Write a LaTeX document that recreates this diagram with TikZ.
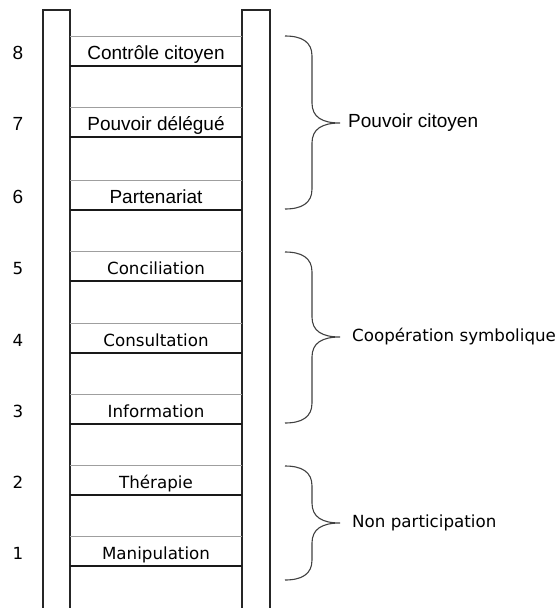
\documentclass[tikz,border=0pt]{standalone}
\usepackage{fontspec}
\setmainfont{Liberation Sans}
\newfontfamily\dejavu{DejaVu Sans}
\usetikzlibrary{positioning}

\newcommand\upfont{\fontsize{19}{22}\selectfont}
\newcommand\lowfont{\dejavu\fontsize{16.7}{20}\selectfont}

\begin{document}
\begin{tikzpicture}[x=1pt,y=-1pt,
    rail/.style={draw=black!85,line width=1.4pt,fill=white},
    rung/.style={rectangle,minimum width=172pt,minimum height=29pt,inner sep=0pt,text height=16pt,text depth=0pt},
    rungtop/.style={gray!75,line width=1.3pt},
    rungbot/.style={black!90,line width=2pt},
    level/.style={inner sep=0pt,text height=16pt,text depth=0pt},
    grpbrace/.style={black!75,line width=1.1pt},
    group/.style={inner sep=0pt,anchor=west}
]
\useasboundingbox (0,0) rectangle (558,608);

% Rails
\draw[rail] (43,10) rectangle (70,620);
\draw[rail] (242,10) rectangle (270,620);

% Rungs and levels
\foreach \n/\y/\lab/\f in {8/51.5/Contrôle citoyen/\upfont,
                           7/122.5/Pouvoir délégué/\upfont,
                           6/195.5/Partenariat/\upfont,
                           5/266.5/Conciliation/\lowfont,
                           4/338.5/Consultation/\lowfont,
                           3/409.5/Information/\lowfont,
                           2/480.5/Thérapie/\lowfont,
                           1/551.5/Manipulation/\lowfont} {
    \node[rung] (r\n) at (156,\y) {\f\lab};
    \draw[rungtop] (r\n.north west) -- (r\n.north east);
    \draw[rungbot] (r\n.south west) -- (r\n.south east);
    \node[level] (num\n) at (18,\y) {\f\n};
}

% Braces
\foreach \t/\m/\b in {36/123/209,252/337/423,466/523/580} {
    \draw[grpbrace] (285,\t) .. controls (302,\t) and (312,\t+6) .. (312,\t+20)
        -- (312,\m-20) .. controls (312,\m-6) and (322,\m) .. (340,\m)
        .. controls (322,\m) and (312,\m+6) .. (312,\m+20)
        -- (312,\b-20) .. controls (312,\b-6) and (302,\b) .. (285,\b);
}
\coordinate (tipA) at (340,123);
\coordinate (tipB) at (340,337);
\coordinate (tipC) at (340,523);

% Group labels
\node[group,right=8pt of tipA] (citoyen) {\upfont Pouvoir citoyen};
\node[group,right=12pt of tipB] (symbolique) {\lowfont Coopération symbolique};
\node[group,right=12pt of tipC] (nonpart) {\lowfont Non participation};

\end{tikzpicture}
\end{document}
